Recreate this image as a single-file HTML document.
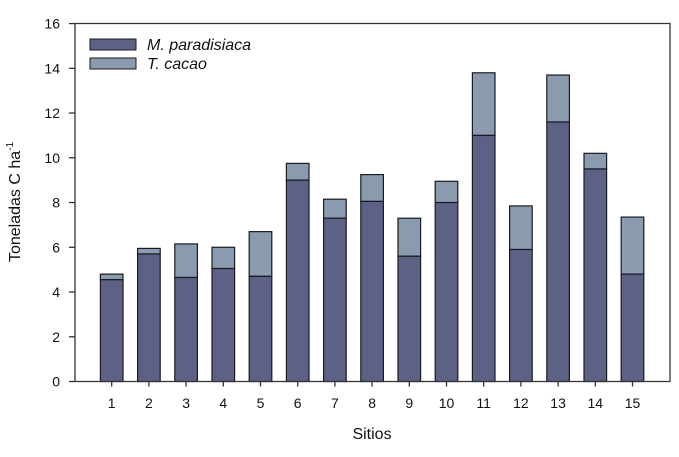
<!DOCTYPE html>
<html><head><meta charset="utf-8"><style>html,body{margin:0;padding:0;background:#fff}</style></head>
<body>
<svg width="679" height="452" xmlns="http://www.w3.org/2000/svg" font-family="Liberation Sans, sans-serif">
<rect width="679" height="452" fill="#fff"/>
<g id="bars" stroke="#1a1a22" stroke-width="1.2"></g>
<path d="M75,23.5 H670 V381.5 H75 Z" fill="none" stroke="#333" stroke-width="1.3"/>
<g stroke="#333" stroke-width="1.3" id="ticks"></g>
<g font-size="14" fill="#111" id="labels"></g>
<rect x="90" y="39" width="46" height="11" fill="#5d6186" stroke="#1a1a22"/>
<rect x="90" y="58" width="46" height="11" fill="#8a9bb0" stroke="#1a1a22"/>
<text x="147" y="50" font-size="16" font-style="italic" fill="#111">M. paradisiaca</text>
<text x="147" y="69" font-size="16" font-style="italic" fill="#111">T. cacao</text>
<text x="372" y="439" font-size="16" text-anchor="middle" fill="#111">Sitios</text>
<text transform="translate(20,202) rotate(-90)" font-size="16" text-anchor="middle" fill="#111">Toneladas C ha<tspan font-size="10" dy="-7">-1</tspan></text>
<script>
var d=[[4.55,4.8],[5.7,5.95],[4.65,6.15],[5.05,6.0],[4.7,6.7],[9.0,9.75],[7.3,8.15],[8.05,9.25],[5.6,7.3],[8.0,8.95],[11.0,13.8],[5.9,7.85],[11.6,13.7],[9.5,10.2],[4.8,7.35]];
var y0=381.5,k=22.37,ns="http://www.w3.org/2000/svg";
function el(p,t,a,txt){var e=document.createElementNS(ns,t);for(var i in a)e.setAttribute(i,a[i]);if(txt!=null)e.textContent=txt;document.getElementById(p).appendChild(e);}
for(var i=0;i<15;i++){var c=111.7+i*37.2,x=c-11.3;
el("bars","rect",{x:x,y:y0-d[i][1]*k,width:22.6,height:(d[i][1]-d[i][0])*k,fill:"#8a9bb0"});
el("bars","rect",{x:x,y:y0-d[i][0]*k,width:22.6,height:d[i][0]*k,fill:"#5d6186"});
el("ticks","line",{x1:c,x2:c,y1:y0,y2:y0+5});
el("labels","text",{x:c,y:408,"text-anchor":"middle"},String(i+1));}
for(var v=0;v<=16;v+=2){var y=y0-v*k;el("ticks","line",{x1:69,x2:75,y1:y,y2:y});
el("labels","text",{x:60,y:y+5,"text-anchor":"end"},String(v));}
</script>
</svg>
</body></html>
